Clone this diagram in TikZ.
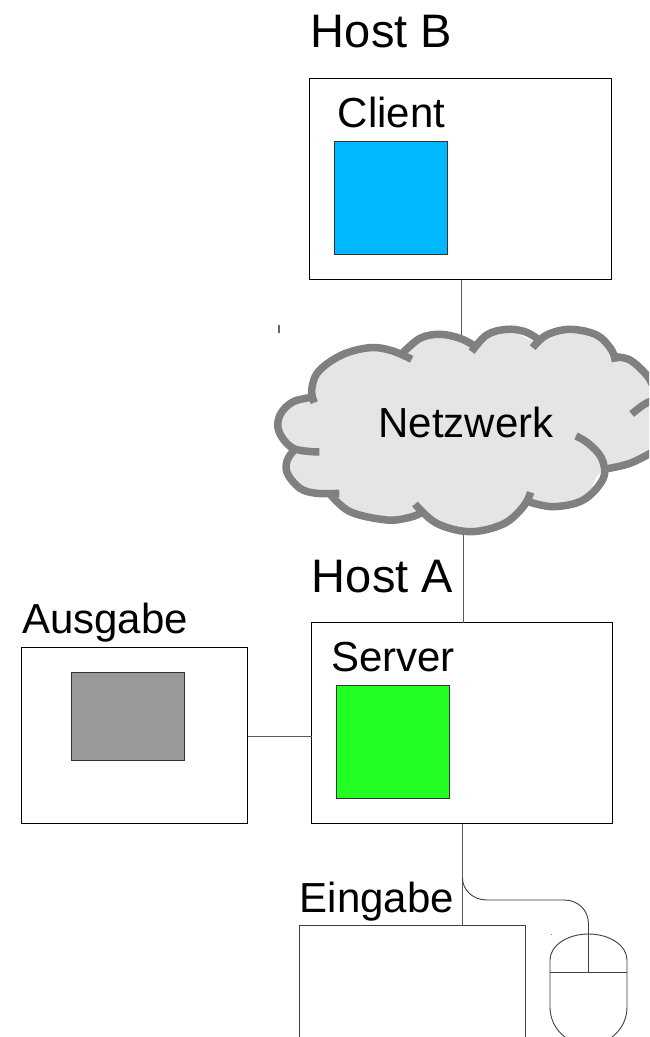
\documentclass[tikz,border=0pt]{standalone}
\usepackage{fontspec}
\setmainfont{Liberation Sans}
\begin{document}
\begin{tikzpicture}[x=1pt,y=-1pt,
  box/.style={draw=black,fill=white,line width=0.9pt,inner sep=0pt,outer sep=0pt,anchor=north west},
  inner/.style={draw=black!80,line width=0.7pt,inner sep=0pt,outer sep=0pt,anchor=north west},
  wire/.style={draw=black!65,line width=1pt},
  thinl/.style={draw=black!75,line width=0.9pt},
  lbl/.style={anchor=base,inner sep=0pt,font=\fontsize{42}{42}\selectfont},
  hostlbl/.style={anchor=base,inner sep=0pt,font=\fontsize{47}{47}\selectfont},
  cloudline/.style={draw=black!50,line width=7.5pt,line cap=butt}]
\useasboundingbox (0,0) rectangle (649,1037);
\clip (0,0) rectangle (649,1037);
\fill[white] (0,0) rectangle (649,1037);

% nodes
\node[box,minimum width=302pt,minimum height=201pt] (hostb) at (309.7,78.7) {};
\node[inner,fill={rgb,255:red,0;green,184;blue,255},minimum width=113pt,minimum height=113pt] (client) at (334.7,141.7) {};
\node[box,minimum width=301pt,minimum height=201pt] (hosta) at (311.7,622.7) {};
\node[inner,fill={rgb,255:red,34;green,255;blue,34},minimum width=113pt,minimum height=113pt] (server) at (336.7,685.7) {};
\node[box,minimum width=226pt,minimum height=176pt] (ausgabe) at (21.7,647.7) {};
\node[inner,fill=black!40,minimum width=113pt,minimum height=88pt] (screen) at (71.7,672.7) {};
\node[box,draw=black!75,minimum width=226pt,minimum height=140pt] (eingabe) at (299.5,925) {};

\coordinate (cloudtop) at (461,340);
\coordinate (cloudbot) at (463,525);
\coordinate (cablebend) at (462.5,878);
\coordinate (eintop) at (462.5,925);
\coordinate (srvout) at (462.5,824);
\coordinate (mouseb) at (588.5,972);

% connectors
\draw[wire] (hostb.south -| cloudtop) -- (cloudtop);
\draw[wire] (cloudbot) -- (hosta.north -| cloudbot);
\draw[wire] (ausgabe.east |- 0,736) -- (hosta.west |- 0,736);
\draw[wire] (srvout) -- (eintop);
\draw[thinl] (cablebend) .. controls (462.5,890) and (473,900) .. (487,900) -- (564,900)
   .. controls (578,900) and (588.5,910) .. (588.5,924) -- (mouseb);

% mouse
\draw[thinl,fill=none] (550,972) -- (550,960) arc[start angle=180,end angle=360,x radius=38.5pt,y radius=-26pt]
   -- (627,1007) arc[start angle=0,end angle=180,x radius=38.5pt,y radius=-38pt] -- cycle;
\draw[thinl] (550,972) -- (627,972);

% cloud
\begin{scope}[shift={(260,300)},x=0.3333pt,y=-0.3333pt]
\fill[black!10] plot[smooth cycle,tension=0.6] coordinates {(155,270)(175,215)(245,165)(330,143)(425,162)(480,115)(540,103)(640,140)(680,105)(740,88)(825,125)(860,105)(930,88)(1010,105)(1060,170)(1110,180)(1160,225)(1190,300)(1190,450)(1032,508)(970,600)(880,620)(805,605)(730,672)(630,695)(530,670)(475,640)(380,660)(270,635)(215,585)(120,565)(82,520)(82,480)(100,445)(57,395)(60,345)(100,305)};
\foreach \p in {
 {(455,178)(395,152)(330,143)(245,165)(175,215)(155,270)(163,308)},
 {(165,291)(100,305)(60,345)(57,395)(100,445)(178,456)},
 {(105,447)(82,480)(82,520)(120,565)(170,580)(238,580)},
 {(210,582)(270,635)(380,660)(450,652)(485,638)},
 {(465,612)(530,670)(630,695)(730,672)(790,620)(812,577)},
 {(805,605)(880,620)(970,600)(1030,535)(1025,475)(985,430)(948,408)},
 {(1032,508)(1110,490)(1180,455)},
 {(1115,342)(1150,315)(1180,300)},
 {(1060,170)(1110,180)(1160,225)(1180,260)},
 {(818,143)(860,105)(930,88)(1010,105)(1055,150)(1066,185)},
 {(635,155)(680,105)(740,88)(795,95)(835,118)},
 {(425,162)(480,115)(540,103)(600,115)(648,140)}} {
  \draw[cloudline] plot[smooth,tension=0.6] coordinates \p;
}
\end{scope}

% labels
\node[hostlbl] (lhostb) at (381.5,47) {Host B};
\node[lbl] (lclient) at (391.5,127) {Client};
\node[lbl] (lnet) at (466,437) {Netzwerk};
\node[hostlbl] (lhosta) at (382.5,592) {Host A};
\node[lbl] (lserver) at (393,671.5) {Server};
\node[lbl] (lausgabe) at (105,633) {Ausgabe};
\node[lbl] (leingabe) at (377,912) {Eingabe};

% specks
\fill[black!60] (278,325) rectangle (279.5,333);
\fill[black!50] (550.5,934) rectangle (551.5,935);
\end{tikzpicture}
\end{document}
